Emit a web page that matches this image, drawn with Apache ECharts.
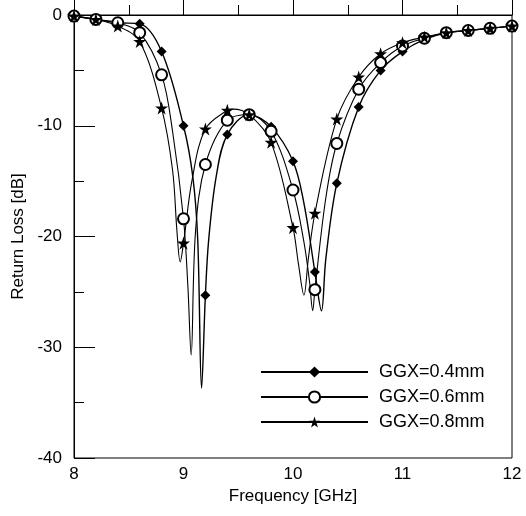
<!DOCTYPE html>
<html>
<head>
<meta charset="utf-8">
<script src="https://cdn.jsdelivr.net/npm/echarts@6/dist/echarts.min.js"></script>
<style>html,body{margin:0;padding:0;background:#fff}#c{width:526px;height:516px}</style>
</head>
<body>
<div id="c"></div>
<script>
// Marker frequencies (GHz)
const freqs = [8.0, 8.2, 8.4, 8.6, 8.8, 9.0, 9.2, 9.4, 9.6, 9.8, 10.0, 10.2, 10.4, 10.6, 10.8, 11.0, 11.2, 11.4, 11.6, 11.8, 12.0];
// Return loss at markers (dB)
const ggx04 = [-0.1, -0.4, -0.7, -0.8, -3.3, -10.0, -25.3, -10.8, -9.0, -10.1, -13.2, -23.2, -15.2, -8.3, -5.0, -3.3, -2.2, -1.6, -1.4, -1.2, -1.0];
const ggx06 = [-0.1, -0.4, -0.7, -1.6, -5.4, -18.4, -13.5, -9.5, -9.0, -10.5, -15.8, -24.8, -11.6, -6.7, -4.3, -2.8, -2.1, -1.6, -1.4, -1.2, -1.0];
const ggx08 = [-0.1, -0.4, -1.0, -2.4, -8.4, -20.6, -10.3, -8.6, -9.0, -11.5, -19.2, -17.9, -9.4, -5.6, -3.5, -2.5, -2.0, -1.6, -1.4, -1.2, -1.0];
// Extra curve points (no markers)
const ggx04Curve = [[9.085, -14.6], [9.13, -20.3], [9.165, -33.7], [9.23, -20.3], [9.3, -14.5], [10.1, -17.0], [10.26, -26.7], [10.3, -22.0]];
const ggx06Curve = [[8.9, -10.5], [9.04, -24.5], [9.07, -30.7], [9.11, -19.5], [10.1, -20.5], [10.15, -24.0], [10.18, -26.7], [10.3, -16.5]];
const ggx08Curve = [[8.9, -14.0], [8.94, -19.5], [8.97, -22.3], [9.08, -14.8], [9.45, -8.5], [10.05, -22.5], [10.1, -25.3], [10.14, -22.0]];
const seriesNames = ['GGX=0.4mm', 'GGX=0.6mm', 'GGX=0.8mm'];

const starPath = 'path://M0,-1 L0.2245,-0.309 L0.951,-0.309 L0.363,0.118 L0.588,0.809 L0,0.382 L-0.588,0.809 L-0.363,0.118 L-0.951,-0.309 L-0.2245,-0.309 Z';

function build(vals, extra) {
  const pts = freqs.map((f, i) => ({ value: [f, vals[i]] }));
  extra.forEach(p => pts.push({ value: p, symbol: 'none' }));
  pts.sort((a, b) => a.value[0] - b.value[0]);
  return pts;
}

const font = 'Arial, "Liberation Sans", sans-serif';
const chart = echarts.init(document.getElementById('c'), null, { renderer: 'canvas' });

function mkSeries(name, vals, extra, symbol, size, lw) {
  return {
    name: name, type: 'line', smooth: 0.35,
    data: build(vals, extra),
    symbol: symbol, symbolSize: size, showAllSymbol: true,
    lineStyle: { color: '#000', width: lw },
    itemStyle: { color: '#000', borderColor: '#000', borderWidth: symbol === 'emptyCircle' ? 1.5 : 0 },
    emphasis: { disabled: true },
    animation: false
  };
}

chart.setOption({
  animation: false,
  backgroundColor: '#fff',
  grid: { left: 74, right: 14, top: 15, bottom: 58, show: true, borderColor: '#000', borderWidth: 1 },
  legend: {
    orient: 'vertical', left: 260, top: 363, padding: 0,
    itemWidth: 107, itemHeight: 14, itemGap: 7,
    data: seriesNames,
    textStyle: { fontFamily: font, fontSize: 18, color: '#000', padding: [0, 0, 0, 6] }
  },
  xAxis: {
    type: 'value', min: 8, max: 12, interval: 1,
    name: 'Frequency [GHz]', nameLocation: 'middle', nameGap: 27,
    nameTextStyle: { fontFamily: font, fontSize: 17, color: '#000' },
    axisLine: { lineStyle: { color: '#000', width: 1 } },
    axisTick: { inside: true, length: 20, lineStyle: { color: '#000' } },
    minorTick: { show: true, splitNumber: 2, length: 10, lineStyle: { color: '#000' } },
    axisLabel: { fontFamily: font, fontSize: 17, color: '#000', margin: 8 },
    splitLine: { show: false }
  },
  yAxis: {
    type: 'value', min: -40, max: 0, interval: 10,
    name: 'Return Loss [dB]', nameLocation: 'middle', nameGap: 39,
    nameTextStyle: { fontFamily: font, fontSize: 17, color: '#000' },
    axisLine: { lineStyle: { color: '#000', width: 1 } },
    axisTick: { inside: true, length: 21, lineStyle: { color: '#000' } },
    minorTick: { show: true, splitNumber: 2, length: 10, lineStyle: { color: '#000' } },
    axisLabel: { fontFamily: font, fontSize: 17, color: '#000', margin: 12 },
    splitLine: { show: false }
  },
  series: [
    mkSeries(seriesNames[0], ggx04, ggx04Curve, 'diamond', 10, 1.4),
    mkSeries(seriesNames[1], ggx06, ggx06Curve, 'emptyCircle', 11, 1.1),
    mkSeries(seriesNames[2], ggx08, ggx08Curve, starPath, 13, 1.1)
  ]
});
</script>
</body>
</html>
